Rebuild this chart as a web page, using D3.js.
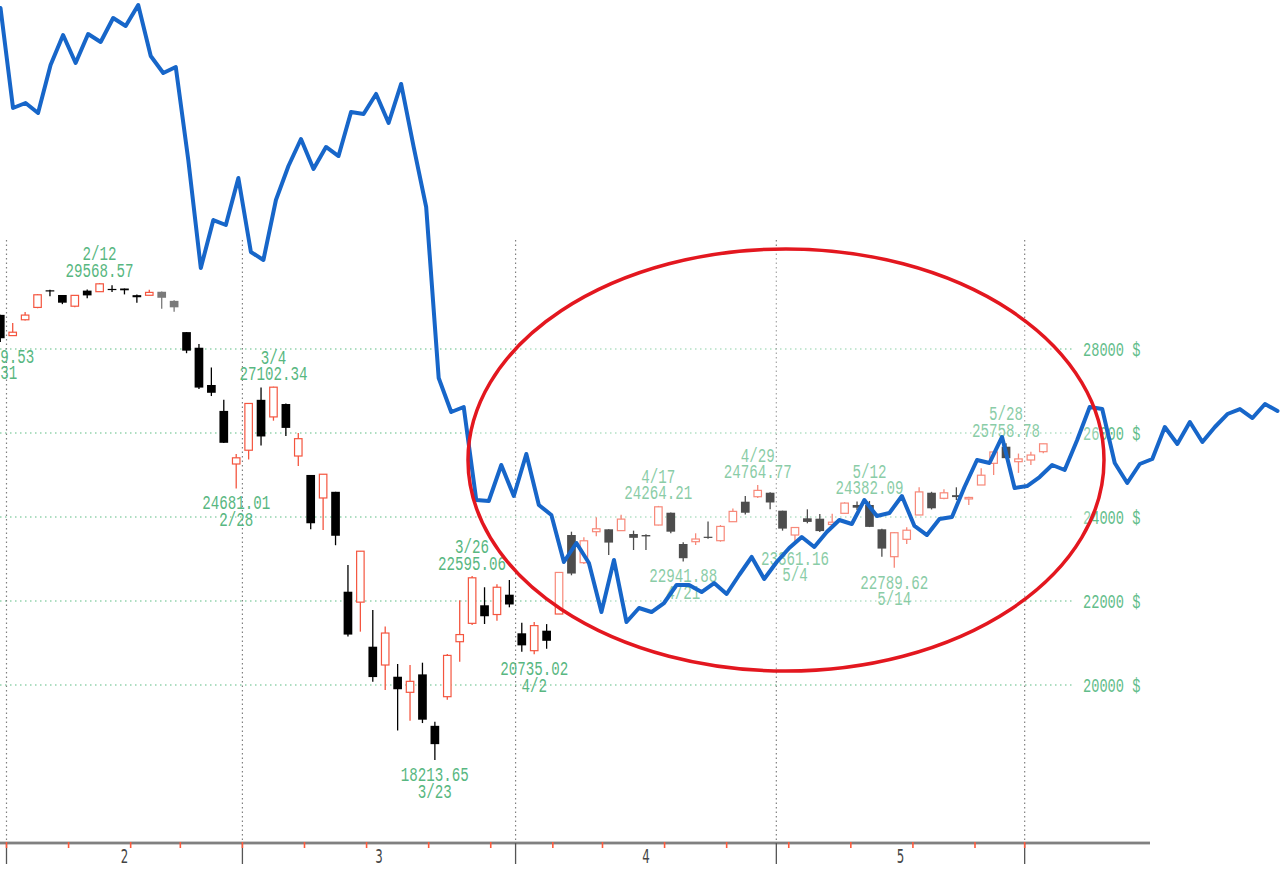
<!DOCTYPE html>
<html>
<head>
<meta charset="utf-8">
<script src="https://cdn.jsdelivr.net/npm/d3@7"></script>
<style>
  body { margin: 0; background: #fff; overflow: hidden; }
  svg { display: block; }
</style>
</head>
<body>
<svg width="1280" height="876"></svg>
<script>
// Dow daily candles, 2020-01-31 .. 2020-06-02
const dates = ["1/31",
  "2/3","2/4","2/5","2/6","2/7","2/10","2/11","2/12","2/13","2/14","2/18","2/19","2/20","2/21","2/24","2/25","2/26","2/27","2/28",
  "3/2","3/3","3/4","3/5","3/6","3/9","3/10","3/11","3/12","3/13","3/16","3/17","3/18","3/19","3/20","3/23","3/24","3/25","3/26","3/27","3/30","3/31",
  "4/1","4/2","4/3","4/6","4/7","4/8","4/9","4/13","4/14","4/15","4/16","4/17","4/20","4/21","4/22","4/23","4/24","4/27","4/28","4/29","4/30",
  "5/1","5/4","5/5","5/6","5/7","5/8","5/11","5/12","5/13","5/14","5/15","5/18","5/19","5/20","5/21","5/22","5/26","5/27","5/28","5/29",
  "6/1","6/2"];
const open = [28813,
  28319,28696,28990,29398,29286,29019,29390,29365,29431,29440,29282,29279,29363,29146,28402,28030,27143,26526,25262,
  25590,26790,26383,26690,25452,25001,24453,24600,22221,21973,20912,20476,20197,19826,20253,19028,19722,21031,21468,21898,21678,22150,
  21231,20817,21293,21690,23571,22912,23650,23707,23675,23595,23571,23809,24102,23357,23412,23530,23436,23888,24364,24483,24578,
  24150,23571,23969,23960,23822,24088,24286,24286,23707,23055,23469,24048,24578,24445,24520,24430,24762,25278,25674,25317,
  25357,25555];
const high = [28813,
  28620,28880,29308,29408,29286,29277,29415,29568.57,29519,29440,29300,29409,29371,29160,28402,28119,27560,26790,25500,
  26706,27084,27102.34,26700,26000,25001,25020,24600,22857,23190,21786,21390,20500,20476,20531,19126,20737,22019,22595.06,22327,22400,22500,
  21480,21500,21450,22680,23650,23517,23996,23707,24051,23675,23590,24264.21,24110,23400,23612,23890,23809,24205,24500,24764.77,24590,
  24150,23760,24183,24070,24080,24350,24370,24382.09,23720,23640,23754,24707,24600,24660,24707,24480,25160,25550,25758.78,25510,
  25555,25742];
const low = [28169.53,
  28319,28680,28970,29256,29068,28995,29210,29365,29358,29300,29100,29279,28961,28888,27900,27050,26880,25760,24681.01,
  25370,25700,26293,25929,25215,23706,23690,23328,21154,21270,20080,19880,18917,19150,19094,18213.65,19650,20556,21430,21452,21530,21850,
  20790,20735.02,20863,21690,22612,22880,23540,23095,23675,23214,23214,23800,23612,22941.88,23333,23485,23412,23880,24060,24450,24183,
  23675,23361.16,23850,23640,23800,24080,24167,23760,23055,22789.62,23357,24048,24180,24420,24405,24286,24762,25000,25390,25050,
  25240,25517];
const close = [28256.03,
  28399.81,28807.63,29290.85,29379.77,29102.51,29276.82,29276.34,29551.42,29423.31,29398.08,29232.19,29348.03,29219.98,28992.41,27960.80,27081.36,26957.59,25766.64,25409.36,
  26703.32,25917.41,27090.86,26121.28,25864.78,23851.02,25018.16,23553.22,21200.62,23185.62,20188.52,21237.38,19898.92,20087.19,19173.98,18591.93,20704.91,21200.55,22552.17,21636.78,22327.48,21917.16,
  20943.51,21413.44,21052.53,22679.99,22653.86,23433.57,23719.37,23390.77,23949.76,23504.35,23537.68,24242.49,23650.44,23018.88,23475.82,23515.26,23775.27,24133.78,24101.55,24633.86,24345.72,
  23723.69,23749.76,23883.09,23664.64,23875.89,24331.32,24221.99,23764.78,23247.97,23625.34,23685.42,24597.37,24206.86,24575.90,24474.12,24465.16,24995.11,25548.27,25400.64,25383.11,
  25475.02,25742.65];

// days carrying a high / low annotation
const highMarks = ["2/12","3/4","3/26","4/17","4/29","5/12","5/28"];
const lowMarks = ["1/31","2/28","3/23","4/2","4/21","5/4","5/14"];

// overlaid comparison line (scaled to the same $ axis)
const overlay = [36119,33738,33857,33619,34762,35476,34810,35500,35310,35881,
  35691,36191,34976,34572,34714,32500,29929,31071,30952,32071,
  30310,30119,31548,32357,33000,32286,32810,32595,33643,33595,
  34072,33381,34310,32810,31381,27310,26500,26619,24405,24381,
  25238,24500,25500,24286,24048,22928,23381,22905,21738,22976,
  21500,21833,21738,21952,22381,22381,22214,22428,22167,22619,
  23048,22524,22928,23262,23524,23286,23643,23929,23833,24405,
  24024,24095,24500,23786,23571,23952,24000,24714,25357,25286,
  25905,24690,24738,24952,25238,25119,25833,26619,26571,25286,
  24810,25262,25381,26143,25738,26262,25786,26143,26452,26571,
  26357,26690,26524];

const gridValues = [20000, 22000, 24000, 26000, 28000];

const svg = d3.select("svg");
const plotTop = 240, axisY = 843;

const parse = s => { const [m, d] = s.split("/").map(Number); return new Date(2020, m - 1, d); };
const days = dates.map((s, i) => ({ date: s, t: parse(s), o: open[i], h: high[i], l: low[i], c: close[i] }));

const x = d3.scaleBand().domain(dates).range([-5.92, 1049.5]).paddingInner(0.3).paddingOuter(0.15);
const y = d3.scaleLinear().domain([20000, 28000]).range([685, 349]);
const xo = d3.scaleLinear().domain([0, overlay.length - 1]).range([0.5, 1277.5]);
const step = x.step();
const cx = s => x(s) + x.bandwidth() / 2;
const edge = s => cx(s) - step / 2;

const green = "#58b781", red = "#f4553f";
const mono = "Liberation Mono, DejaVu Sans Mono, monospace";

// condensed text: one <text>, one tspan per line
function label(g, lines, px, py, opt = {}) {
  const cw = opt.cw || 8.5, lh = opt.lh || 16.5;
  const t = g.append("text")
    .attr("text-anchor", opt.anchor || "middle")
    .attr("font-family", opt.family || mono)
    .attr("font-size", opt.size || 19.5)
    .attr("fill", opt.fill || green);
  lines.forEach((str, i) => {
    t.append("tspan")
      .attr("x", px).attr("y", py + i * lh)
      .attr("textLength", str.length * cw)
      .attr("lengthAdjust", "spacingAndGlyphs")
      .text(str);
  });
  return t;
}

// month boundaries and week starts
const monthStarts = days.filter((d, i) => i > 0 && d.t.getMonth() !== days[i - 1].t.getMonth());
const weekStarts = days.filter((d, i) => i > 0 && d.t.getDay() <= days[i - 1].t.getDay());

// grid
const grid = svg.append("g");
grid.selectAll(".hg").data(gridValues).join("line")
  .attr("x1", 0).attr("x2", 1075)
  .attr("y1", d => y(d)).attr("y2", d => y(d))
  .attr("stroke", "#93d3ad").attr("stroke-width", 1.3).attr("stroke-dasharray", "1.5,3.5");
grid.selectAll(".vg").data(monthStarts).join("line")
  .attr("x1", d => edge(d.date)).attr("x2", d => edge(d.date))
  .attr("y1", plotTop).attr("y2", axisY)
  .attr("stroke", "#808080").attr("stroke-width", 1.2).attr("stroke-dasharray", "1.5,3");
gridValues.forEach(v => label(grid, [`${v} $`], 1083, y(v) + 7, { anchor: "start", cw: 8.2, fill: "#62bd8a" }));

// x axis
const ax = svg.append("g");
ax.append("line").attr("x1", 0).attr("x2", 1150).attr("y1", axisY).attr("y2", axisY)
  .attr("stroke", "#9a9a9a").attr("stroke-width", 3);
ax.append("line").attr("x1", 0).attr("x2", 1150).attr("y1", axisY).attr("y2", axisY)
  .attr("stroke", "#666").attr("stroke-width", 1);
ax.selectAll(".mt").data(monthStarts).join("line")
  .attr("x1", d => edge(d.date)).attr("x2", d => edge(d.date))
  .attr("y1", axisY).attr("y2", axisY + 21)
  .attr("stroke", "#555").attr("stroke-width", 1.3);
ax.selectAll(".wt").data(weekStarts).join("line")
  .attr("x1", d => edge(d.date)).attr("x2", d => edge(d.date))
  .attr("y1", axisY - 1).attr("y2", axisY + 5)
  .attr("stroke", "#ff5a3c").attr("stroke-width", 1.6);
// month labels centred on months with enough trading days
d3.groups(days, d => d.t.getMonth()).forEach(([m, list]) => {
  if (list.length < 10) return;
  const mid = (edge(list[0].date) + edge(list[list.length - 1].date) + step) / 2;
  label(ax, [String(m + 1)], mid, axisY + 20, { fill: "#444", size: 20, cw: 7.5, family: "DejaVu Sans, sans-serif" });
});

// candles
const mutedDays = new Set(["2/20", "2/21"]);
const down = d => mutedDays.has(d.date) ? "#7a7a7a" : "#000";
const cg = svg.append("g");
const candle = cg.selectAll("g").data(days).join("g");
candle.append("line")
  .attr("x1", d => cx(d.date)).attr("x2", d => cx(d.date))
  .attr("y1", d => y(d.h)).attr("y2", d => y(d.l))
  .attr("stroke", d => d.c >= d.o ? red : down(d)).attr("stroke-width", 1.3);
candle.append("rect")
  .attr("x", d => x(d.date) + (d.c >= d.o ? 0.6 : 0))
  .attr("width", d => x.bandwidth() - (d.c >= d.o ? 1.2 : 0))
  .attr("y", d => y(Math.max(d.o, d.c)))
  .attr("height", d => Math.max(1.2, Math.abs(y(d.o) - y(d.c))))
  .attr("fill", d => d.c >= d.o ? "#fff" : down(d))
  .attr("stroke", d => d.c >= d.o ? red : "none")
  .attr("stroke-width", 1.2);

// high / low annotations
const lg = svg.append("g");
days.filter(d => highMarks.includes(d.date)).forEach(d => {
  label(lg, [d.date, d.h.toFixed(2)], cx(d.date), y(d.h) - 23);
});
days.filter(d => lowMarks.includes(d.date)).forEach(d => {
  label(lg, [d.l.toFixed(2), d.date], cx(d.date), y(d.l) + 21);
});

// highlighted area
const ell = { cx: 786, cy: 460, rx: 318, ry: 211 };
svg.append("ellipse").attr("cx", ell.cx).attr("cy", ell.cy).attr("rx", ell.rx).attr("ry", ell.ry)
  .attr("fill", "#fff").attr("fill-opacity", 0.3);

// overlay line
svg.append("path").datum(overlay)
  .attr("d", d3.line().x((d, i) => xo(i)).y(d => y(d)))
  .attr("fill", "none").attr("stroke", "#1766c9").attr("stroke-width", 4)
  .attr("stroke-linejoin", "round").attr("stroke-linecap", "round");

svg.append("ellipse").attr("cx", ell.cx).attr("cy", ell.cy).attr("rx", ell.rx).attr("ry", ell.ry)
  .attr("fill", "none").attr("stroke", "#e3171f").attr("stroke-width", 3.5);
</script>
</body>
</html>
